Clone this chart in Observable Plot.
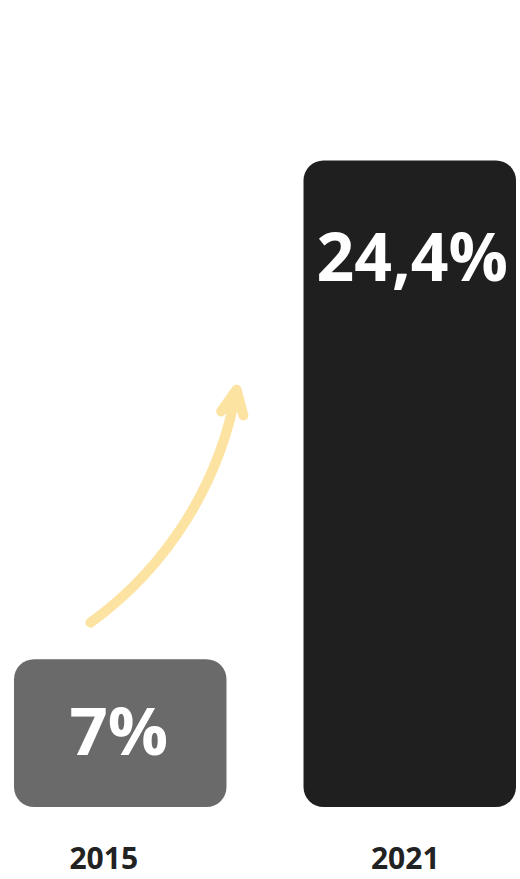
<!DOCTYPE html>
<html>
<head>
<meta charset="utf-8">
<script src="https://cdn.jsdelivr.net/npm/d3@7"></script>
<script src="https://cdn.jsdelivr.net/npm/@observablehq/plot@0.6"></script>
<style>
  html, body { margin: 0; padding: 0; background: #fff; }
  #chart svg { display: block; }
</style>
</head>
<body>
<div id="chart"></div>
<script>
// Data
const years = ["2015", "2021"];
const values = [7, 24.4];
const valueLabels = ["7%", "24,4%"];
const barColors = ["#6a6a6a", "#1f1f1f"];
// annotation arrow (in data units: x = bar index space, y = value)
const arrowTail = [0.2625, 8.29];
const arrowHead = [0.767, 16.42];

const barW = 0.734;
const yBase = 1.84;
const data = years.map((year, i) => ({year, i, value: values[i], label: valueLabels[i], color: barColors[i]}));
const yearDx = [-17, -5];

const chart = Plot.plot({
  width: 520,
  height: 879,
  marginTop: 0,
  marginLeft: 14,
  marginRight: 4,
  marginBottom: 72,
  x: {domain: [0, 1 + barW], axis: null},
  y: {domain: [yBase, 30], axis: null},
  style: {fontFamily: "'Open Sans', sans-serif", background: "#fff"},
  marks: [
    Plot.rect(data, {x1: "i", x2: d => d.i + barW, y1: yBase, y2: "value", fill: "color", rx: 20}),
    Plot.text(data.filter(d => d.i === 0), {
      x: d => d.i + barW / 2, y: d => (yBase + d.value) / 2, dx: -2,
      text: "label", fill: "#fff", fontSize: 67, fontWeight: 700, lineAnchor: "middle"
    }),
    Plot.text(data.filter(d => d.i === 1), {
      x: d => d.i + barW / 2, y: "value", dy: 73, dx: 2,
      text: "label", fill: "#fff", fontSize: 66, fontWeight: 700, lineAnchor: "top"
    }),
    ...data.map((d, k) => Plot.text([d], {
      x: d => d.i + barW / 2, y: yBase, dy: 40, dx: yearDx[k],
      text: "year", fill: "#222", fontSize: 30, fontWeight: 700, lineAnchor: "top"
    })),
    Plot.arrow([{x1: arrowTail[0], y1: arrowTail[1], x2: arrowHead[0], y2: arrowHead[1]}], {
      x1: "x1", y1: "y1", x2: "x2", y2: "y2",
      bend: -22, stroke: "#fde3a2", strokeWidth: 10, headLength: 4, headAngle: 50,
      strokeLinecap: "round", strokeLinejoin: "round"
    })
  ]
});
document.getElementById("chart").appendChild(chart);
</script>
</body>
</html>
